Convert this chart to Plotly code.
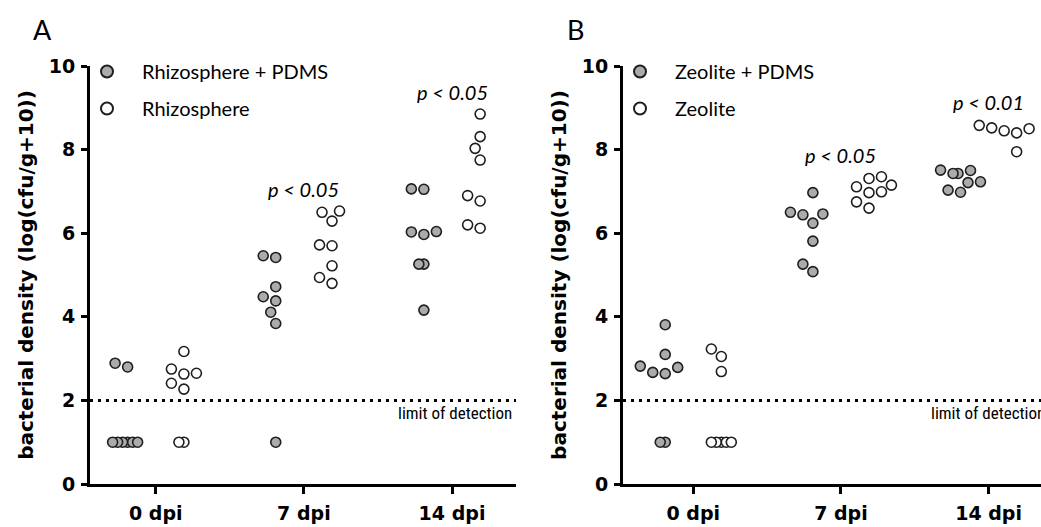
import plotly.graph_objects as go

# ---------------- data ----------------
DAYS = ["0 dpi", "7 dpi", "14 dpi"]
LOD = 2.0  # limit of detection

# Panel A (log(cfu/g+10)), one list per time point
A_PDMS_NAME = "Rhizosphere + PDMS"
A_CTRL_NAME = "Rhizosphere"
A_PDMS = [
    [2.80, 2.89, 1.0, 1.0, 1.0, 1.0, 1.0, 1.0],
    [5.46, 5.42, 4.72, 4.48, 4.38, 4.11, 3.84, 1.0],
    [7.05, 7.06, 6.04, 5.97, 6.03, 5.26, 5.26, 4.16],
]
A_CTRL = [
    [3.17, 2.63, 2.65, 2.75, 2.27, 2.41, 1.0, 1.0],
    [6.53, 6.29, 6.50, 5.72, 5.70, 5.22, 4.80, 4.94],
    [8.85, 8.31, 8.03, 7.75, 6.90, 6.77, 6.20, 6.12],
]
A_PVALS = ["", "p &lt; 0.05", "p &lt; 0.05"]

# Panel B
B_PDMS_NAME = "Zeolite + PDMS"
B_CTRL_NAME = "Zeolite"
B_PDMS = [
    [3.81, 3.10, 2.82, 2.67, 2.64, 2.79, 1.0, 1.0],
    [6.97, 6.44, 6.50, 6.46, 6.24, 5.81, 5.08, 5.26],
    [7.50, 7.51, 7.43, 7.43, 7.23, 7.21, 6.98, 7.03],
]
B_CTRL = [
    [3.23, 3.05, 2.69, 1.0, 1.0, 1.0, 1.0, 1.0],
    [7.31, 7.15, 7.11, 7.35, 6.97, 6.99, 6.75, 6.60],
    [8.62, 8.58, 8.55, 8.52, 8.50, 8.45, 8.40, 7.95],
]
B_PVALS = ["", "p &lt; 0.05", "p &lt; 0.01"]

# ---------------- layout constants ----------------
W, H = 1041, 527
PLOT_TOP, PLOT_BOT = 66, 484
Y_PX_PER_UNIT = (PLOT_BOT - PLOT_TOP) / 10.0
X_PX_PER_CAT = 148.0
GROUP_OFF = 0.19
MARK = 10
GRAY = "#ababab"
EDGE = "#1e1e1e"
BOLD_FONT = "'DejaVu Sans', sans-serif"
NARROW_FONT = "'Liberation Sans Narrow', 'Roboto Condensed', 'DejaVu Sans Condensed', sans-serif"
REG_FONT = "Lato, 'Open Sans', sans-serif"


def swarm(values, diam=12.0, same_gap=5.0, step=2.5):
    """Greedy beeswarm: returns horizontal offsets in pixels."""
    placed = []
    offs = [0.0] * len(values)
    order = sorted(range(len(values)), key=lambda i: values[i])
    cands = [0.0]
    for j in range(1, 80):
        cands += [-j * step, j * step]
    for i in order:
        y = values[i] * Y_PX_PER_UNIT
        chosen = 0.0
        for c in cands:
            ok = True
            for (px, py, v) in placed:
                need = same_gap if v == values[i] else diam
                if (c - px) ** 2 + (y - py) ** 2 < need ** 2 - 1e-9:
                    ok = False
                    break
            if ok:
                chosen = c
                break
        placed.append((chosen, y, values[i]))
        offs[i] = chosen
    return offs


def series_xy(groups, side):
    xs, ys = [], []
    for d, vals in enumerate(groups):
        offs = swarm(vals)
        for v, o in zip(vals, offs):
            xs.append(d + side * GROUP_OFF + o / X_PX_PER_CAT)
            ys.append(v)
    return xs, ys


fig = go.Figure()

panels = [
    ("x", "y", "legend", A_PDMS_NAME, A_PDMS, A_CTRL_NAME, A_CTRL),
    ("x2", "y2", "legend2", B_PDMS_NAME, B_PDMS, B_CTRL_NAME, B_CTRL),
]
for xa, ya, lg, n1, g1, n2, g2 in panels:
    for name, groups, side, fill, grp in [(n1, g1, -1, GRAY, "a"), (n2, g2, 1, "white", "b")]:
        xs, ys = series_xy(groups, side)
        fig.add_trace(go.Scatter(
            x=xs, y=ys, mode="markers", name=name, xaxis=xa, yaxis=ya,
            legend=lg, legendgroup=lg + grp,
            marker=dict(size=MARK, color=fill, line=dict(color=EDGE, width=1.6)),
            cliponaxis=False,
        ))

ydom = [1 - PLOT_BOT / H, 1 - PLOT_TOP / H]
tick_font = dict(family=BOLD_FONT, size=19, color="black", weight="bold")
axis_common = dict(showline=True, linewidth=3, linecolor="black", ticks="outside",
                   tickwidth=3, tickcolor="black", showgrid=False, zeroline=False,
                   automargin=False, tickfont=tick_font)
ytitle = dict(text="bacterial density (log(cfu/g+10))", standoff=10,
              font=dict(family=BOLD_FONT, size=20, color="black", weight="bold"))
leg_common = dict(xanchor="left", yanchor="top", bgcolor="rgba(0,0,0,0)",
                  font=dict(family=REG_FONT, size=20, color="black"), tracegroupgap=8,
                  itemsizing="constant", itemwidth=60)

fig.update_layout(
    width=W, height=H, autosize=False,
    margin=dict(l=0, r=0, t=0, b=0, autoexpand=False),
    plot_bgcolor="white", paper_bgcolor="white",
    xaxis=dict(domain=[90 / W, 516 / W], range=[-0.444, 2.432], anchor="y",
               tickvals=[0, 1, 2], ticktext=DAYS, ticklen=7, ticklabelstandoff=3, **axis_common),
    yaxis=dict(domain=ydom, range=[0, 10], anchor="x", tickvals=[0, 2, 4, 6, 8, 10],
               ticklen=6, ticklabelstandoff=2, title=ytitle, **axis_common),
    xaxis2=dict(domain=[623 / W, 1.0], range=[-0.476, 2.355], anchor="y2",
                tickvals=[0, 1, 2], ticktext=DAYS, ticklen=7, ticklabelstandoff=3, **axis_common),
    yaxis2=dict(domain=ydom, range=[0, 10], anchor="x2", tickvals=[0, 2, 4, 6, 8, 10],
                ticklen=6, ticklabelstandoff=2, title=ytitle, **axis_common),
    legend=dict(x=72 / W, y=1 - 52 / H, **leg_common),
    legend2=dict(x=605 / W, y=1 - 52 / H, **leg_common),
    showlegend=True,
)

# limit-of-detection dotted lines
for xa, ya in [("x", "y"), ("x2", "y2")]:
    fig.add_shape(type="line", xref=f"{xa} domain", yref=ya, x0=0, x1=1, y0=LOD, y1=LOD,
                  line=dict(color="black", width=3, dash="3px,5px"))

# text annotations
fig.add_annotation(x=514 / W, y=1 - 413 / H, xref="paper", yref="paper", text="limit of detection",
                   showarrow=False, xanchor="right", yanchor="middle",
                   font=dict(family=NARROW_FONT, size=17, color="black"))
fig.add_annotation(x=1047 / W, y=1 - 413 / H, xref="paper", yref="paper", text="limit of detection",
                   showarrow=False, xanchor="right", yanchor="middle",
                   font=dict(family=NARROW_FONT, size=17, color="black"))
fig.add_annotation(x=42 / W, y=1 - 30 / H, xref="paper", yref="paper", text="A", showarrow=False,
                   xanchor="center", yanchor="middle",
                   font=dict(family=REG_FONT, size=27, color="black"))
fig.add_annotation(x=575 / W, y=1 - 30 / H, xref="paper", yref="paper", text="B", showarrow=False,
                   xanchor="center", yanchor="middle",
                   font=dict(family=REG_FONT, size=27, color="black"))

for xa, ya, groups, pv in [("x", "y", A_CTRL, A_PVALS), ("x2", "y2", B_CTRL, B_PVALS)]:
    for d, txt in enumerate(pv):
        if not txt:
            continue
        top = max(groups[d])
        fig.add_annotation(x=d, y=top, xref=xa, yref=ya, text=txt, showarrow=False,
                           yanchor="bottom", yshift=8,
                           font=dict(family=REG_FONT, size=20, color="black", style="italic"))

fig.write_html("out.html", config={"displayModeBar": False},
               post_script="document.body.style.margin='0px';document.body.style.overflow='hidden';")
